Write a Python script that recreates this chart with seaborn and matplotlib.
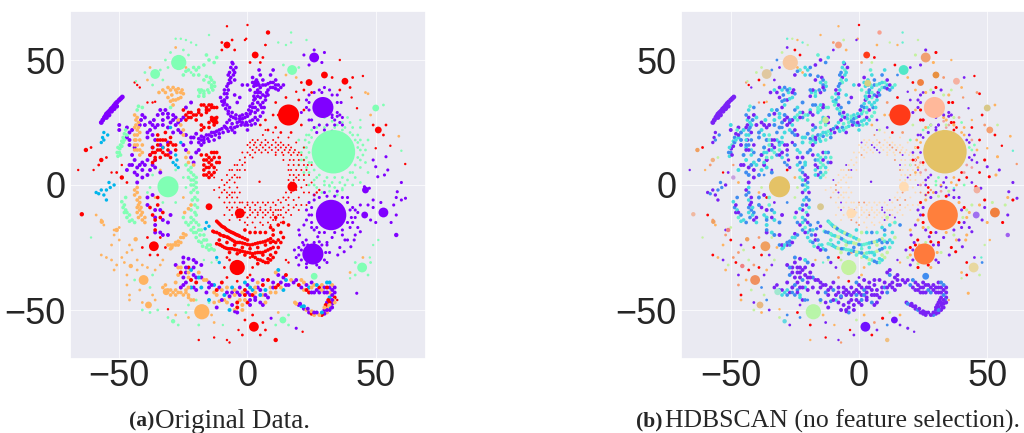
# t-SNE panels, original labels vs HDBSCAN labels
import pandas as pd
import seaborn as sns
import matplotlib.pyplot as plt

PUR = '#8000ff'
BLU = '#00b5eb'
GRN = '#80ffb4'
ORA = '#ffb360'
RED = '#ff0000'
VIO = '#7a22f5'
AZU = '#3f8cf0'
CYA = '#45dbe0'
TEA = '#66f0d0'
PAL = '#ffdcb4'
GLD = '#e4c266'
VER = '#ff3a18'
SAL = '#f79a70'
LIM = '#c4f2a0'

# positions (same embedding in both panels)
blob_pts = [(33.5, 13.3), (32.6, -12), (16, 28), (29.4, 31), (25.5, -27.6), (-4, -33), (-31, -0.7),
            (-26.8, 49), (-17.8, -50.7), (53, -11), (-36.5, -24.5), (2.5, -56.7), (-36, 44.4), (17.4, 46),
            (3, 52), (-8, 56), (24, 41), (26, 51), (38, 41.5), (30, 44), (51, 22), (44.7, -33), (13.8, -54),
            (-40.5, -38), (-38.6, -48), (-31.7, -42.7), (50, 30.8), (-51, -18), (-45.5, -32.4), (-43.6, -21.7),
            (-56.8, -14.7), (-63, 14), (-57, 10), (-49, 3), (8, 61), (-64.6, -11.7), (11, -62), (-3, -11.3),
            (17.5, -0.7), (3.4, 40.7), (46, -2), (45.7, -12), (58, -20), (-15, -8.7), (-29, -54.5),
            (26, -36.5), (-13, 26)]
blob_tier = ['huge', 'xl', 'l', 'l', 'l', 'm', 'l', 'm', 'm', 's', 's', 's', 's', 's',
             'xs', 'xs', 'xs', 's', 'xs', 'xs', 'xs', 's', 'xs',
             's', 'xs', 'xs', 'xs', 'xxs', 'xxs', 'xxs',
             'xxs', 'xxs', 'xxs', 'xxs', 'xxs', 'xxs', 'xxs', 's',
             's', 'xs', 'xs', 'xs', 'xxs', 'xs', 'xxs', 'xs', 'xs']
blob_left = [GRN, PUR, RED, PUR, PUR, RED, GRN, GRN, ORA, PUR, RED, RED, GRN, GRN,
             RED, RED, RED, PUR, RED, RED, RED, GRN, GRN,
             ORA, ORA, ORA, GRN, ORA, ORA, ORA,
             ORA, RED, RED, RED, RED, RED, RED, RED,
             RED, PUR, PUR, PUR, PUR, RED, GRN, GRN, RED]
blob_right = [GLD, '#ff7f3c', VER, '#ffb89a', '#ff7a3c', LIM, GLD, '#f7c8a0', '#b8f5a8', '#f08040', '#f0a060',
              '#7010ff', '#e0c8a0', '#50e8c8', VER, '#f5a080', '#f08040', '#f0a070', '#f5b0a0', '#e89040',
              '#f5a070', '#e8d8a0', '#7010ff', '#f09060', '#e8b880', '#a0e8d0', '#d8c888', '#f08080', '#f08080',
              '#f0a060', '#f0a060', '#f0a060', '#f0b080', '#c8a0e0', '#f8a090', '#f0b8a0', '#f0c080', PAL,
              PAL, '#d8d080', '#f0b0a0', '#a070f0', '#a060f0', '#d8c890', '#60d8e0', AZU, '#c8e8a0']

halo_green = [(23, 20), (22, 15), (22, 10), (24, 5), (26, 2), (30, 0), (34, -1), (38, 0), (42, 3), (44, 7),
              (45, 12), (45, 16), (43, 20), (41, 23), (37, 25), (33, 25.5), (28, 24), (25, 22), (21, 13),
              (23, 7), (27, -1), (32, -2.5), (37, -2), (41, 0), (46, 9), (46, 14), (44, 23), (39, 27), (30, 27),
              (20, 18), (35, -4), (29, -3), (47, 18), (24, 0), (44, 1), (20, 8), (25, 26), (35, 27.5), (47, 5)]
halo_green_2 = [(24, 13), (24, 17), (25, 9), (26, 6), (28, 4), (31, 3), (34, 3), (37, 3), (40, 5), (42, 8), (43, 11),
                (43, 15), (42, 18), (40, 21), (37, 22), (34, 23), (30, 23), (27, 21), (25, 19), (23, 11), (23, 15),
                (24, 9), (27, 3), (30, 1.5), (33, 1), (36, 1), (39, 2), (41, 5), (44, 10), (44, 14), (43, 17), (41, 20),
                (38, 23), (35, 24), (31, 24), (27, 23), (24, 20), (22.5, 18), (21, 10), (44, 18), (26, 0), (40, 25),
                (32, -0.5), (22, 5)]
halo_purple = [(23, 31), (24, 26), (26, 23), (30, 22), (34, 24), (36, 28), (36.5, 33), (35, 36), (32, 38),
               (28, 38), (24, 36), (30, 39), (37, 24), (21, 29), (33, 21.5), (27, 21), (36, 25), (33, 27),
               (35, 27.5), (37, 27), (24, -12), (24, -7), (26, -4), (30, -3), (35, -2.5), (39, -5), (41, -9),
               (42, -13), (40, -17), (37, -20), (33, -21), (28, -19), (25, -17), (23, -10), (44, -8), (22, -16),
               (31, -23), (38, -22), (43, -17), (19, -29), (20, -32), (23, -33), (28, -33), (31, -31), (32, -27),
               (31, -24), (20, -25), (47, -8), (48, -14), (57, -8), (58, -12), (56, -15), (50, -15), (49, -9),
               (52, -7), (26, 54), (30, 53), (29, 49), (24, 48), (22, 52), (33, 28), (49, -6), (43, -11)]
halo_purple_2 = [(25, -12), (25, -9), (26, -6), (28, -5), (31, -4.5), (34, -4.5), (37, -5), (39, -7), (40, -10), (40.5, -13),
                 (39, -15), (37, -18), (34, -19), (30, -19), (27, -17), (25, -15), (26, -18), (23, -14), (41, -15), (42, -10),
                 (24, 30), (24, 33), (26, 37), (29, 37), (33, 36), (35, 33), (35, 29), (34, 26), (31, 24), (28, 24), (25, 26),
                 (23, 34), (20, -28), (21, -30), (23, -31.5), (27, -32), (30, -30), (30.5, -27), (29, -24), (26, -23), (22, -24),
                 (21, -26)]
halo_red = [(10, 28), (11, 23), (13, 21), (17, 21), (21, 24), (22, 30), (20, 34), (15, 35), (11, 33), (8, 22),
            (5, 24), (-9, -33), (-8, -29), (-3, -27), (1, -29), (2, -33), (0, -37), (-4, -38.5), (-8, -37),
            (-7, -30), (1, -36), (-2, -60), (5, -60), (6, -55), (-1, -54), (2, -52), (7, -58), (-41, -25),
            (-39, -21), (-34, -21), (-32, -25), (-35, -28), (-38, -28), (-10, 57), (-6, 58), (-5, 54), (-10, 54),
            (6, 51), (1, 49), (5, 49), (22, 38), (25, 37), (21, 41), (33, 43), (36, 38), (40, 39), (41, 43),
            (53, 20), (49, 24), (54, 24), (12, 28), (7, 26), (-61, 15), (-58, 8), (-55, 11), (-47, 1), (-51, 5)]
halo_other = [(-31, 47), (-23, 52), (-24, 47), (-30, 53), (-32, 50), (-28, 55), (-25, 54), (-22, 45), (-38, 47),
              (-34, 46), (-33, 42), (-39, 42), (-37, 40), (-40, 45), (15, 44), (20, 47), (14, 48), (19, 43),
              (-38, -1), (-37, 4), (-34, 6), (-28, 6), (-25, 3), (-25, -5), (-28, -7), (-33, -7), (-36, -5),
              (-39, -3), (-24, -1), (-23, -53), (-23, -48), (-19, -56), (-14, -52), (-15, -47), (-20, -46),
              (-13, -55), (-24, -51), (-44, -38), (-42, -42), (-38, -41), (-37, -36), (-43, -34), (-38, -51),
              (-41, -50), (-36, -46), (-35, -50), (42, -31), (40, -35), (47, -36), (48, -31), (45, -29), (42, -36),
              (16, -52), (12, -51), (11, -56), (16, -56), (48, 28), (53, 32), (-31, -53), (-28, -52), (-27, -56)]

ring_dots = [(2, 18), (4, 18), (7, 18), (10, 18), (1, 17), (3, 17), (5.5, 17), (8, 17), (11, 17), (13, 17),
             (0, 16), (2.5, 16), (5, 16), (7, 16), (9.5, 16), (12, 16), (14, 16), (16, 16), (1, 15), (3.5, 15),
             (6, 15), (8.5, 15), (11, 15), (13, 15), (15, 15), (17, 15), (2, 14), (4.5, 14), (7, 14), (9.5, 14),
             (12, 14), (14.5, 14), (16.5, 14), (18.5, 14), (3, 13), (5.5, 13), (8, 13), (11, 13), (13.5, 13),
             (16, 13), (18, 13), (20, 13), (11, 12), (14, 12), (17, 12), (19.5, 12), (21, 12), (14, 10), (16.5, 10),
             (18, 10), (20, 10), (22, 10), (16, 8), (18, 8), (20, 8), (22, 8), (23.5, 8), (17, 6), (19, 6), (21, 6),
             (23, 6), (16.5, 4), (18, 4), (20, 4), (22, 4), (24, 4), (-1, 11), (-3, 10), (-5, 8), (-2, 8), (-7, 6),
             (-4, 6), (-1, 6), (-8, 4), (-5, 4), (-3, 3), (-10, 2), (-7, 2), (-5, 1), (-9, 0), (-11, -1), (-7, -1),
             (-4, -1), (-10, -3), (-8, -3), (-5, -3), (-3, -3), (-11, -5), (-8, -5), (-6, -5), (-4, -5), (-9, -7),
             (-7, -7), (-5, -7), (-2, -7), (0, -7), (1, -9), (3, -8), (5, -9), (7, -8), (9, -9), (11, -8), (13, -7),
             (15, -6), (2, -11), (4, -11), (6, -11), (8, -11), (10, -11), (12, -10), (14, -9), (16, -8), (0, -13),
             (3, -13), (6, -13), (9, -13), (12, -12), (15, -11), (18, -9), (-1, -15), (2, -15), (5, -15), (8, -15),
             (11, -14), (14, -13), (17, -12), (20, -10), (18, -6), (20, -5), (22, -3), (19, -2), (21, -1), (23, 0),
             (20, 2), (22, 2), (24, -3), (25, 1), (-6, -9), (-8, -9), (-4, -9), (-2, -10), (-6, -12), (-7, -14),
             (-3, -14), (-9, -12), (-13, -2), (-13, 3), (-12, 6), (7, 22), (10, 21), (12, 19), (6, 20), (16, 19),
             (19, 17), (22, 15), (25, 8), (26, -4), (23, -8), (21, -8)]
ring_dots_2 = [(1, -10), (3, -10), (5, -10), (7, -10), (9, -10), (11, -10), (13, -10), (4, -12), (7, -12), (10, -12), (1, -12),
               (-1, -9), (-2, -12), (-4, -13), (0, -8), (2, -7), (4, -7), (6, -7), (8, -7), (10, -7), (12, -6), (14, -5), (16, -5),
               (17, -3), (15, -3), (17, 1), (18, 1), (16, 2), (19, 3), (-6, -3), (-7, -4), (-9, -2), (-8, 1), (-6, 3), (-4, 3),
               (-6, 6), (-3, 6), (-4, 8), (-1, 9), (1, 12), (2, 11), (0, 13), (-2, 13), (-3, -7), (-7, -10), (-4, -11), (-1, -11),
               (16, 6), (18, 2), (19, -8), (16, -10), (13, -12), (10, -14), (6, -16), (3, -17), (0, -16), (9, -16), (13, -15)]

purple_u = [(-5.7, 48.5), (-6.5, 47), (-5.5, 46), (-7, 45), (-5.5, 44), (-6.5, 43), (-5, 42), (-6.5, 41), (-8, 39.5),
            (-7.5, 38), (-9, 38), (-9, 36.5), (-10.5, 35), (-9, 34), (-9, 33), (-8, 32), (-8.5, 30.5), (-7.5, 29.5),
            (-7.5, 28.5), (-6.5, 27.5), (-5.5, 27), (-4.5, 26.5), (-3, 26.5), (-2, 26.5), (-1, 27), (0, 27.5),
            (1, 28.5), (1.5, 29.5), (2, 31), (2, 32.5), (2.5, 34), (2.5, 35.5), (3, 37), (4, 38), (5, 39), (4, 30),
            (4, 33), (5, 35), (5.5, 31), (6, 33), (3, 27), (4, 26), (6, 29), (6, 36), (7, 34), (7.5, 37), (8, 38),
            (9, 39), (10, 39), (11, 40), (12, 40), (13, 39), (10, 41), (9, 44), (10, 46), (11, 42), (5, 44),
            (4.5, 46), (6, 42), (2, 41), (0, 40), (-2, 40), (1, 38), (-4, 33), (-5, 36), (-3, 35), (3, 24.5),
            (1.5, 24), (0, 24), (-1, 24), (-2.5, 24), (-4, 23.5), (-5, 23), (-6.5, 23), (-8, 22.5), (-9.5, 21),
            (-11, 20.5), (-12.5, 20), (-14, 19.5), (-15.5, 18.5), (-17, 18), (-18, 18), (-18, 19.5), (-16, 20),
            (-13, 21), (-11, 22), (-9, 23.5), (-6, 24.5), (-3, 25.5), (-8, 25), (-5, 21), (0, 22), (-13, 18), (-11, 19)]
purple_u_2 = [(-4.5, 28), (-6, 29), (-7, 31), (-9.5, 32), (-10, 33.5), (-8, 35), (-8, 36.5), (-7.5, 40.5), (-7, 42), (-5, 45),
              (-6, 49), (-4.5, 47), (-7.5, 44), (-3, 27.5), (-2, 28), (-0.5, 28.5), (0.5, 30), (1, 31.5), (3, 29), (3, 31),
              (3, 34.5), (4, 35.5), (4, 37), (5, 37), (5, 32), (6.5, 31), (7, 35.5), (8, 36), (5, 27.5), (2, 26), (1, 25.5),
              (-0.5, 25), (-2, 25), (-4, 25), (-6, 22), (-7.5, 21.5), (-8.5, 23), (-10, 22.5), (-12, 21.5), (-14, 21), (-15, 20),
              (-17, 19), (-19, 18.5), (-19, 17), (-17, 17), (-15, 17.5), (-7, 26), (3.5, 40), (4.5, 40), (2.5, 39.5), (3.5, 42),
              (2, 43), (6, 40), (7, 40), (8, 40.5), (9, 41), (11, 38.5), (12, 38), (14, 40)]
purple_streak = [(-57, 25), (-56.4, 26), (-55.8, 27), (-55.4, 27.6), (-55, 28.4), (-54.4, 29), (-53.8, 29.6),
                 (-53.2, 30.4), (-52.6, 31), (-52, 31.8), (-51.4, 32.6), (-50.8, 33.2), (-50, 34), (-49.4, 34.6),
                 (-48.8, 35.2), (-55, 27), (-54, 28), (-53, 29.5), (-52, 30.5), (-51, 31.5)]
purple_mid = [(-38, 25), (-36.5, 26), (-35, 28), (-33, 28.5), (-31, 28.5), (-29, 28), (-37, 24), (-38, 22), (-39, 21),
              (-36, 23), (-33, 26), (-30, 25), (-28, 24), (-27, 22), (-26, 21), (-24, 20), (-22, 19), (-20, 20.5),
              (-41, 28), (-40, 27), (-41.5, 26), (-26, 26), (-25, 27), (-36, 18), (-34, 16), (-37, 15), (-38, 12),
              (-30, 13), (-22, 17), (-20, 13), (-22, 11), (-21, 9), (-44, 5), (-46, 8), (-44, 10), (-43, 4), (-41, 6),
              (-40, 8), (-39, 4), (-41, 3), (-36, 7), (-34, 5), (-36, 10), (-47, 19), (-46, 21), (-47, 23), (-50, 24),
              (-39, -8), (-36, -10), (-36, -13), (-34, -10), (-36, -19), (-34, -19), (-33, -20), (-31, -20),
              (-33, -14), (-31, -15), (-30, -12), (-36, -16), (-39, -5), (-37, -4), (-21, -41), (-25, -29),
              (-23, -29.5), (-21, -30), (-20, -31), (-18, -32), (-24, 31), (-22, 33)]
purple_mid_2 = [(-42, 24), (-40, 24), (-39, 19), (-37, 20), (-35, 24), (-33, 24), (-31, 27), (-29, 26), (-31, 23), (-29, 21),
                (-27, 25), (-32, 30), (-34, 30), (-45, 8), (-45, 12), (-47, 6), (-43, 7), (-42, 8), (-38, 6), (-37, 8), (-39, 10),
                (-41, 9), (-43, 1), (-25, 16), (-24, 14), (-18, 16), (-19, 14), (-21, 19), (-28, 27), (-31, 17), (-44, 15), (-46, 16),
                (-46, 18), (-45, 22), (-50, 22)]
red_mess = [(-38, 12), (-36, 13), (-37, 15), (-35, 16), (-34, 18), (-32, 18), (-33, 15), (-31, 14), (-29, 16), (-30, 19),
            (-32, 21), (-35, 20), (-28, 14), (-30, 11), (-32, 12), (-34, 11), (-36, 10), (-37, 9), (-25, 30), (-24, 28),
            (-22, 29), (-20, 28), (-22, 27), (-24, 26), (-18, 28), (-19, 30), (-17, 32), (-16, 31), (-14, 32), (-15, 30),
            (-18, 32), (-13, 31), (-12, 27), (-14, 26), (-13, 25), (-15, 25), (-18, 24), (-18, 22), (-17, 23), (-15, 23),
            (-18, 12), (-16, 12), (-17, 10), (-15, 9), (-14, 13), (-13, 11), (-12, 9), (-14, 8), (-16, 7), (-17, 6),
            (-15, 5), (-13, 5), (-16, 4), (-15, 3), (-12, 13), (-11, 11), (-38, -9), (-37, -12), (-36, -14), (-35, -8),
            (-34, -13), (-33, -11), (-36, -18), (-35, -5)]
red_mess_2 = [(-37, 13), (-35, 14), (-33, 13), (-31, 16), (-33, 18), (-35, 18), (-30, 17), (-28, 16), (-36, 11), (-34, 14), (-31, 12),
              (-21, 28), (-23, 29), (-19, 29), (-16, 30), (-15, 32), (-14, 31), (-12, 31), (-16, 29), (-23, 27), (-20, 26), (-14, 27),
              (-12, 25), (-13, 24), (-16, 10), (-14, 10), (-15, 7), (-13, 7), (-17, 8), (-15, 11), (-13, 13), (-11, 9), (-14, 4), (-17, 4)]
red_strands = [(-12, -14.5), (-11, -15.5), (-10, -16.5), (-9, -17), (-8, -18), (-7, -18.5), (-6, -19), (-5, -19.5),
               (-4, -20), (-3, -20.5), (-1, -21.5), (-13.5, -18.5), (-12, -19), (-10.5, -20), (-9, -20.5), (-7.5, -21),
               (-6, -22), (-4.5, -23), (-3, -23), (-1, -23.5), (1, -24), (3, -23.5), (5, -23), (7, -22.5), (9, -21.5),
               (10, -20), (-12, -23.5), (-10.5, -24), (-9, -25), (-7.5, -25.5), (-6, -25.5), (-4, -26), (-2, -26.5),
               (0, -27), (2, -27.5), (4, -27), (6, -27), (8, -26), (10, -25), (11, -27), (3, -29), (5, -30), (7, -31),
               (8, -29.5), (9, -28), (6, -28), (4, -31.5), (10, -18), (12, -16), (11, -13), (13, -19), (14, -15),
               (16, -16), (12, -22), (14, -21), (9, -17), (7, -19), (5, -19), (3, -19), (1, -19), (-1, -18)]
red_strands_2 = [(-11.5, -15), (-10.5, -16), (-9.5, -16.8), (-8.5, -17.5), (-7.5, -18.2), (-6.5, -18.8), (-5.5, -19.2), (-4.5, -19.8),
                 (-3.5, -20.2), (-2, -21), (0, -22), (-13, -18.8), (-11, -19.5), (-9.5, -20.3), (-8, -20.8), (-6.8, -21.5), (-5.2, -22.5),
                 (-3.8, -23), (-2, -23.2), (0, -23.8), (2, -23.8), (4, -23.2), (6, -22.8), (8, -22), (-11, -23.8), (-9.8, -24.5),
                 (-8.2, -25.3), (-6.8, -25.5), (-5, -25.8), (-3, -26.2), (-1, -26.8), (1, -27.2), (3, -27.2), (5, -27), (7, -26.5),
                 (9, -25.5), (-11, -22), (-8, -23), (-5, -24), (-2, -25), (1, -25.5), (4, -25), (7, -24), (9, -23), (10, -22.5),
                 (2, -28.5), (4, -29.8), (6, -30.5), (8, -31), (9, -30), (10, -29), (11, -23), (12, -25), (13, -23), (-7, -27),
                 (-4, -27.5), (-1, -28)]
green_strands = [(-50.5, 11.5), (-50, 13), (-49.8, 14.5), (-49.5, 16), (-49, 17.5), (-48.5, 19), (-48, 20.5), (-47.5, 22),
                 (-49, -6.7), (-48.5, -9), (-48, -11), (-47, -13), (-46, -14.5), (-44, -15), (-21, 2), (-21, 0), (-21, -2),
                 (-20.5, -5), (-20.5, -8), (-20.5, -11), (-22, -13), (-24, -15), (-23, -16), (-21, -17), (-20, -19),
                 (-18.5, -20), (-17, -22), (-15.5, -24), (-14, -25.5), (-13, -26), (-15, -26), (-17.5, -24.5), (-19, -22.5),
                 (-19, -18), (-22, -10), (-25, -13), (-23, 6), (-22, 5), (-20, 3), (-23, 3), (-21, 47), (-19, 47), (-17, 48),
                 (-23, 46), (-21, 44), (-16, 43.5), (-14.5, 43), (-13, 41), (-12.8, 39.5), (-13.5, 38), (-15, 37), (-17, 36.5),
                 (-18.5, 37), (-13, 49), (-15, 50), (-16, 52), (-12, 51), (-24, 45.5), (-25, 44), (-42.5, 31.5), (-43, 30),
                 (-41, 31), (-30, 31)]
green_strands_2 = [(-20, 1), (-20, -1), (-19.5, -3), (-19.5, -6), (-19.5, -9), (-20, -12), (-21, -14), (-22, -15), (-20, -15), (-19, -16),
                   (-18, -18), (-17, -20), (-16, -22), (-14.5, -24), (-16, -25), (-18, -23), (-20, -21), (-21, -19), (-22, -18), (-21.5, -6),
                   (-22, -3), (-22, 0), (-22, 2), (-21, 4), (-22, 7), (-24, 8), (-49.5, 12), (-50.8, 13), (-50.5, 15), (-49, 15.5),
                   (-48.5, 17), (-48, 18), (-47, 20), (-14, 40), (-15, 41), (-17, 42), (-19, 44), (-20, 46), (-14, 39), (-15.5, 38),
                   (-17, 37.5), (-18, 38), (-19, 38), (-17, 35.5), (-19, 35.5), (-14, 42), (-47.5, -10), (-47, -11), (-46, -12), (-45, -14),
                   (-48, -8), (-47.5, -5)]
orange_strands = [(-33, 38), (-31, 39), (-29, 39), (-27, 38.5), (-25.5, 38), (-25, 36.5), (-26, 35), (-28, 34), (-30, 33.5),
                  (-29, 32), (-31, 35), (-29.5, 36), (-27.5, 37), (-34.5, 37), (-44, 28), (-43.5, 26), (-43.5, 24), (-43, 22),
                  (-43, 20), (-43.5, 18), (-43, 16), (-42, 14), (-43, 14), (-42, 18), (-44, 20), (-44, 23), (-27, 26), (-26, 24),
                  (-25, 22), (-25, 20), (-23, 13), (-24, 11), (-23, 9), (-21, 8), (-44, -2), (-44, -4), (-43, -6), (-42.5, -8),
                  (-42, -10), (-41.5, -12), (-41, -14), (-42.5, -13), (-43, -11), (-42, -5), (-22, -8), (-23, -9.5), (-24.5, -11),
                  (-31, -24), (-29.5, -25), (-28, -24), (-27, -22.5), (-26, -21), (-25, -19.5), (-28, -23), (-30, -25.5),
                  (-33, -41), (-31, -42), (-29, -43), (-27, -43), (-25, -44), (-23, -45), (-22, -46), (-24, -42), (-26, -41),
                  (-13, -47), (-11, -46.5), (-9, -46), (-7, -45)]
orange_strands_2 = [(-43, 27), (-42.5, 25), (-42.5, 23), (-42, 21), (-44, 18), (-44, 16), (-44, 14), (-42, 12), (-41, 13), (-41, 16),
                    (-43, -1), (-43, -3), (-42, -7), (-41.5, -9), (-41, -11), (-40, -13), (-40, -15), (-43, -9), (-32, 37), (-30, 38),
                    (-28, 38), (-26, 37), (-27, 34.5), (-29, 34), (-30, -24), (-29, -24), (-27, -24), (-26, -23), (-25, -21), (-24, -20),
                    (-30, -42), (-28, -42), (-26, -43), (-24, -43), (-23, -44), (-21, -46), (-32, -40), (-30, -44), (-28, -44)]
orange_scatter = [(-57, -14), (-59, -12), (-56, -16), (-52, -18), (-50, -17), (-52, -20), (-50, -22), (-53, -24), (-46, -24),
                  (-45, -26), (-47, -27), (-57, -28), (-55, -29), (-53, -30), (-51, -32), (-49, -29), (-48, -31), (-52, -34),
                  (-47, -36), (-43, -30), (-41, -32), (-39, -33), (-36, -34), (-34, -32), (-33, -30), (-47, -40), (-46, -44),
                  (-46, -46), (-41, -47), (-37, -44), (46, 37), (47, 36.5), (59, 19.5)]
bottom_trail = [(-28, -32), (-26, -33), (-25, -31), (-23, -33), (-27, -36), (-24, -35), (-22, -34), (-25, -37), (-23, -37),
                (-24, -39), (-22, -38), (-28, -39), (-26, -41), (-22, -41), (-21, -36), (-19, -35), (-18, -37), (-20, -39),
                (-17, -38), (-15, -39), (-13, -40), (-15, -41), (-13, -43), (-11, -41), (-10, -39), (-8, -41), (-6, -43),
                (-9, -44), (-7, -44.5), (-5, -42), (-3, -44), (-1, -42), (-3, -46), (1, -44), (2, -42), (4, -41), (6, -44),
                (3, -46), (0, -47), (-2, -48), (5, -47), (7, -42), (8, -45), (9, -41), (10, -39), (12, -40), (11, -43),
                (13, -39), (14, -42), (16, -40), (17, -38), (19, -38), (20, -40), (22, -39), (23, -40), (24, -41), (25, -39),
                (26, -40), (27, -42), (28, -41), (29, -40), (30, -41), (31, -39), (32, -41), (33, -40), (33, -42), (24, -43),
                (22, -42), (26, -43), (12, -34), (12, -36), (11, -35), (6, -38), (8, -38), (3, -41), (0, -40), (-1, -39),
                (2, -38), (4, -39), (-12, -49), (-4, -49), (-5, -50), (-4, -51), (-7, -50), (6, -48), (7, -47), (34, -43),
                (34, -45), (33.5, -46), (33, -47.5), (32.5, -49), (32, -50), (31, -51), (30, -51.5), (29, -52), (28, -52),
                (31, -47), (32, -45), (30, -50), (31, -49), (33, -44), (30.5, -48), (18.5, -47), (20, -48), (21, -48.5),
                (22, -49.5), (23, -50), (24, -51), (25, -51.5), (26, -52)]
bottom_trail_2 = [(-20, -37), (-16, -38), (-14, -40), (-12, -42), (-10, -42), (-8, -43), (-6, -41), (-4, -43), (-2, -43), (0, -43), (2, -44),
                  (3, -43), (5, -42), (5, -44), (7, -44), (9, -43), (10, -41), (11, -41), (13, -41), (15, -40), (15, -38), (18, -39), (21, -38),
                  (21, -41), (23, -42), (25, -41), (25, -43), (27, -40), (28, -43), (29, -42), (30, -43), (31, -41), (32, -43), (31, -43),
                  (32, -39), (34, -41), (34, -47), (33, -46), (32, -47), (32, -48), (31, -50), (29, -51), (27, -51), (30, -49), (33, -49),
                  (31.5, -46), (19, -47.5), (20.5, -47.5), (22, -48.5), (23.5, -49.5), (25, -50.5), (26, -51), (-1, -44), (-5, -44), (-3, -41),
                  (1, -41), (3, -45), (-1, -46), (1, -46), (6, -40), (-12, -44), (-16, -43), (-18, -41), (-20, -42), (-27, -33), (-24, -33),
                  (-26, -35), (-23, -35), (-21, -33), (-19, -37), (-25, -40), (-23, -41), (1, -48), (-4, -47), (-8, -47), (-10, -46), (-15, -46),
                  (-6, -48), (-2, -50), (14, -37), (15, -36)]
blue_bits = [(-56.5, 19), (-56, 18), (-56, 21), (-54.5, 20), (-57, 17), (-28, 12), (-27.5, 10), (-28, 8), (-27, 7), (-29, 9),
             (-57, -2), (-55, -2), (-56, -4), (-53.5, -1), (-52, 0), (-54, 1), (-59, -3), (-58, -3.5), (-55, -6),
             (-16, -15), (-15, -16.5), (-16.5, -17.5), (-11, -31), (-12, -29), (-33, 15), (-30, 23), (-26, 17)]
red_loose = [(-8, 63.5), (0, 64), (-0.5, 58.5), (-1, 58), (7, 56), (-43, 40), (-44, 41), (-42, 39), (-36, 33.3), (-37, 33),
             (-39, 33), (-66, 6), (-60, 6), (-53, 5), (-49, 8), (15, -30), (16, -31), (27, -3), (28, -2), (21.5, -58.7),
             (-19, -62), (-13, -61), (-7, -63), (-8, -62), (-31, -49.7), (-3.5, -58), (35, -46), (4.7, 1.3), (36, 50), (45, 43.6),
             (40.6, 35), (42.7, 30.7), (50, 14.7), (55.7, 15.7), (61.5, 8.4), (19, 37.3), (7, 56)]
purple_loose = [(49, 10), (50, 7.3), (54, 11.3), (54.7, 6), (50.8, 3.3), (60, 1), (53.4, 4), (47.5, -1.3), (45.6, -0.7), (58.4, -2.7),
                (58, -5), (61.6, -5.3), (60, -6), (44, -18.7), (41.6, -22), (40.3, -24.7), (37.7, -26.7), (35.2, -28), (42.6, -43.3),
                (20.3, -20), (22.9, -22), (21.5, -23), (23.5, -24), (27.4, -20.7), (28, -22.7), (18.3, -26), (20, -18), (-5, -50.7),
                (9.2, -53.3), (19, -57.3), (42, -20), (39, -22), (36, -25)]
green_loose = [(-43.5, 41.5), (-15, 60), (17, 61), (23, 58), (44, 26), (60, 13.7), (49, -24), (51, -22), (47.7, -29), (40, -37.3),
               (31.9, 0), (37, -1.3), (-61, -21), (-17, -30), (-14, -31), (-12, -30), (-9.6, -56), (-28, 58.5), (-26, 58.5), (-24, 58),
               (-22, 57), (-20, 56), (15, 56), (17, 57), (12, 57)]

# marker areas, style only
blob_size = {'huge': 980, 'xl': 480, 'l': 230, 'm': 120, 's': 50, 'xs': 24, 'xxs': 10}

halo_mix = [VIO, ORA, RED, '#f0a0a0', VIO, GRN]
trail_mix = [PUR, ORA, PUR, RED, ORA, PUR, BLU]
trail_mix_b = [VIO, VIO, VIO, VIO, AZU, VIO]
ring_mix = [PAL, PAL, PAL, PAL, VIO, PAL, PAL, SAL]

# points, area, colours in panel a, colours in panel b
layers = [
    (halo_green, 4, [GRN], halo_mix),
    (halo_green_2, 4, [GRN], halo_mix),
    (halo_purple, 5, [PUR], [VIO, RED, ORA, VIO, LIM]),
    (halo_purple_2, 5, [PUR], [RED, VIO, ORA, VIO, LIM]),
    (halo_red, 4, [RED], [ORA, VIO, RED, SAL, LIM]),
    (halo_other, 4, [GRN, GRN, ORA], [VIO, RED, ORA, LIM, AZU]),
    (ring_dots, 2, [RED], ring_mix),
    (ring_dots_2, 2, [RED], ring_mix),
    (purple_u, 7, [PUR], [VIO, CYA, TEA, AZU, CYA]),
    (purple_u_2, 7, [PUR], [CYA, VIO, AZU, TEA, CYA]),
    (purple_streak, 12, [PUR], [VIO]),
    (purple_mid, 8, [PUR], [VIO, CYA, AZU]),
    (purple_mid_2, 8, [PUR], [CYA, VIO, AZU]),
    (red_mess, 7, [RED], [VIO, CYA, AZU, TEA]),
    (red_mess_2, 7, [RED], [CYA, VIO, TEA]),
    (red_strands, 7, [RED], [CYA, TEA, AZU, CYA, LIM]),
    (red_strands_2, 7, [RED], [TEA, CYA, LIM, AZU]),
    (green_strands, 7, [GRN], [CYA, AZU, VIO, TEA]),
    (green_strands_2, 7, [GRN], [AZU, CYA, VIO]),
    (orange_strands, 7, [ORA], [CYA, VIO, AZU]),
    (orange_strands_2, 7, [ORA], [VIO, CYA, AZU]),
    (orange_scatter, 4, [ORA], [SAL, RED, ORA, VIO, LIM]),
    (bottom_trail, 8, trail_mix, trail_mix_b),
    (bottom_trail_2, 8, trail_mix, trail_mix_b),
    (blue_bits, 6, [BLU], [VIO, AZU]),
    (red_loose, 3, [RED], [ORA, RED, SAL, VIO]),
    (purple_loose, 5, [PUR], [RED, VIO, ORA, VIO]),
    (green_loose, 3, [GRN], [LIM, ORA, TEA]),
]


def draw_panel(ax, which):
    for pts, area, cols_a, cols_b in layers:
        cols = cols_a if which == 'a' else cols_b
        df = pd.DataFrame(pts, columns=['x', 'y'])
        df['c'] = [cols[i % len(cols)] for i in range(len(df))]
        sns.scatterplot(data=df, x='x', y='y', hue='c', palette={c: c for c in cols},
                        s=area, linewidth=0, legend=False, ax=ax)
    blobs = pd.DataFrame(blob_pts, columns=['x', 'y'])
    blobs['c'] = blob_left if which == 'a' else blob_right
    blobs['tier'] = blob_tier
    sns.scatterplot(data=blobs, x='x', y='y', hue='c', palette={c: c for c in blobs['c']},
                    size='tier', sizes=blob_size, linewidth=0, legend=False, ax=ax)
    ax.set_xticks([-50, 0, 50])
    ax.set_yticks([-50, 0, 50])
    ax.set_xlabel('')
    ax.set_ylabel('')
    ax.tick_params(labelsize=26, length=0)
    ax.tick_params(axis='y', pad=3)
    ax.tick_params(axis='x', pad=0)
    ax.grid(linewidth=0.5)


sns.set_theme(style='darkgrid')
plt.rcParams['font.family'] = ['Liberation Sans', 'DejaVu Sans']

fig = plt.figure(figsize=(10.24, 4.33), dpi=100)
ax1 = fig.add_axes([70 / 1024, 74 / 433, 356 / 1024, 348 / 433])
ax2 = fig.add_axes([681 / 1024, 74 / 433, 356 / 1024, 348 / 433])
draw_panel(ax1, 'a')
draw_panel(ax2, 'b')
ax1.set_xlim(-69.2, 69.6)
ax2.set_xlim(-69.4, 69.4)
for ax in (ax1, ax2):
    ax.set_ylim(-69.6, 69.6)

serif = ['Liberation Serif', 'DejaVu Serif']
fig.text(129 / 1024, 12 / 433, '(a)', family=serif, weight='bold', fontsize=15.5, va='center')
fig.text(155 / 1024, 12 / 433, 'Original Data.', family=serif, fontsize=19.5, va='center')
fig.text(636 / 1024, 12 / 433, '(b)', family=serif, weight='bold', fontsize=15.5, va='center')
fig.text(665 / 1024, 12 / 433, 'HDBSCAN (no feature selection).', family=serif, fontsize=18.5, va='center')

fig.savefig('out.png', dpi=100)
